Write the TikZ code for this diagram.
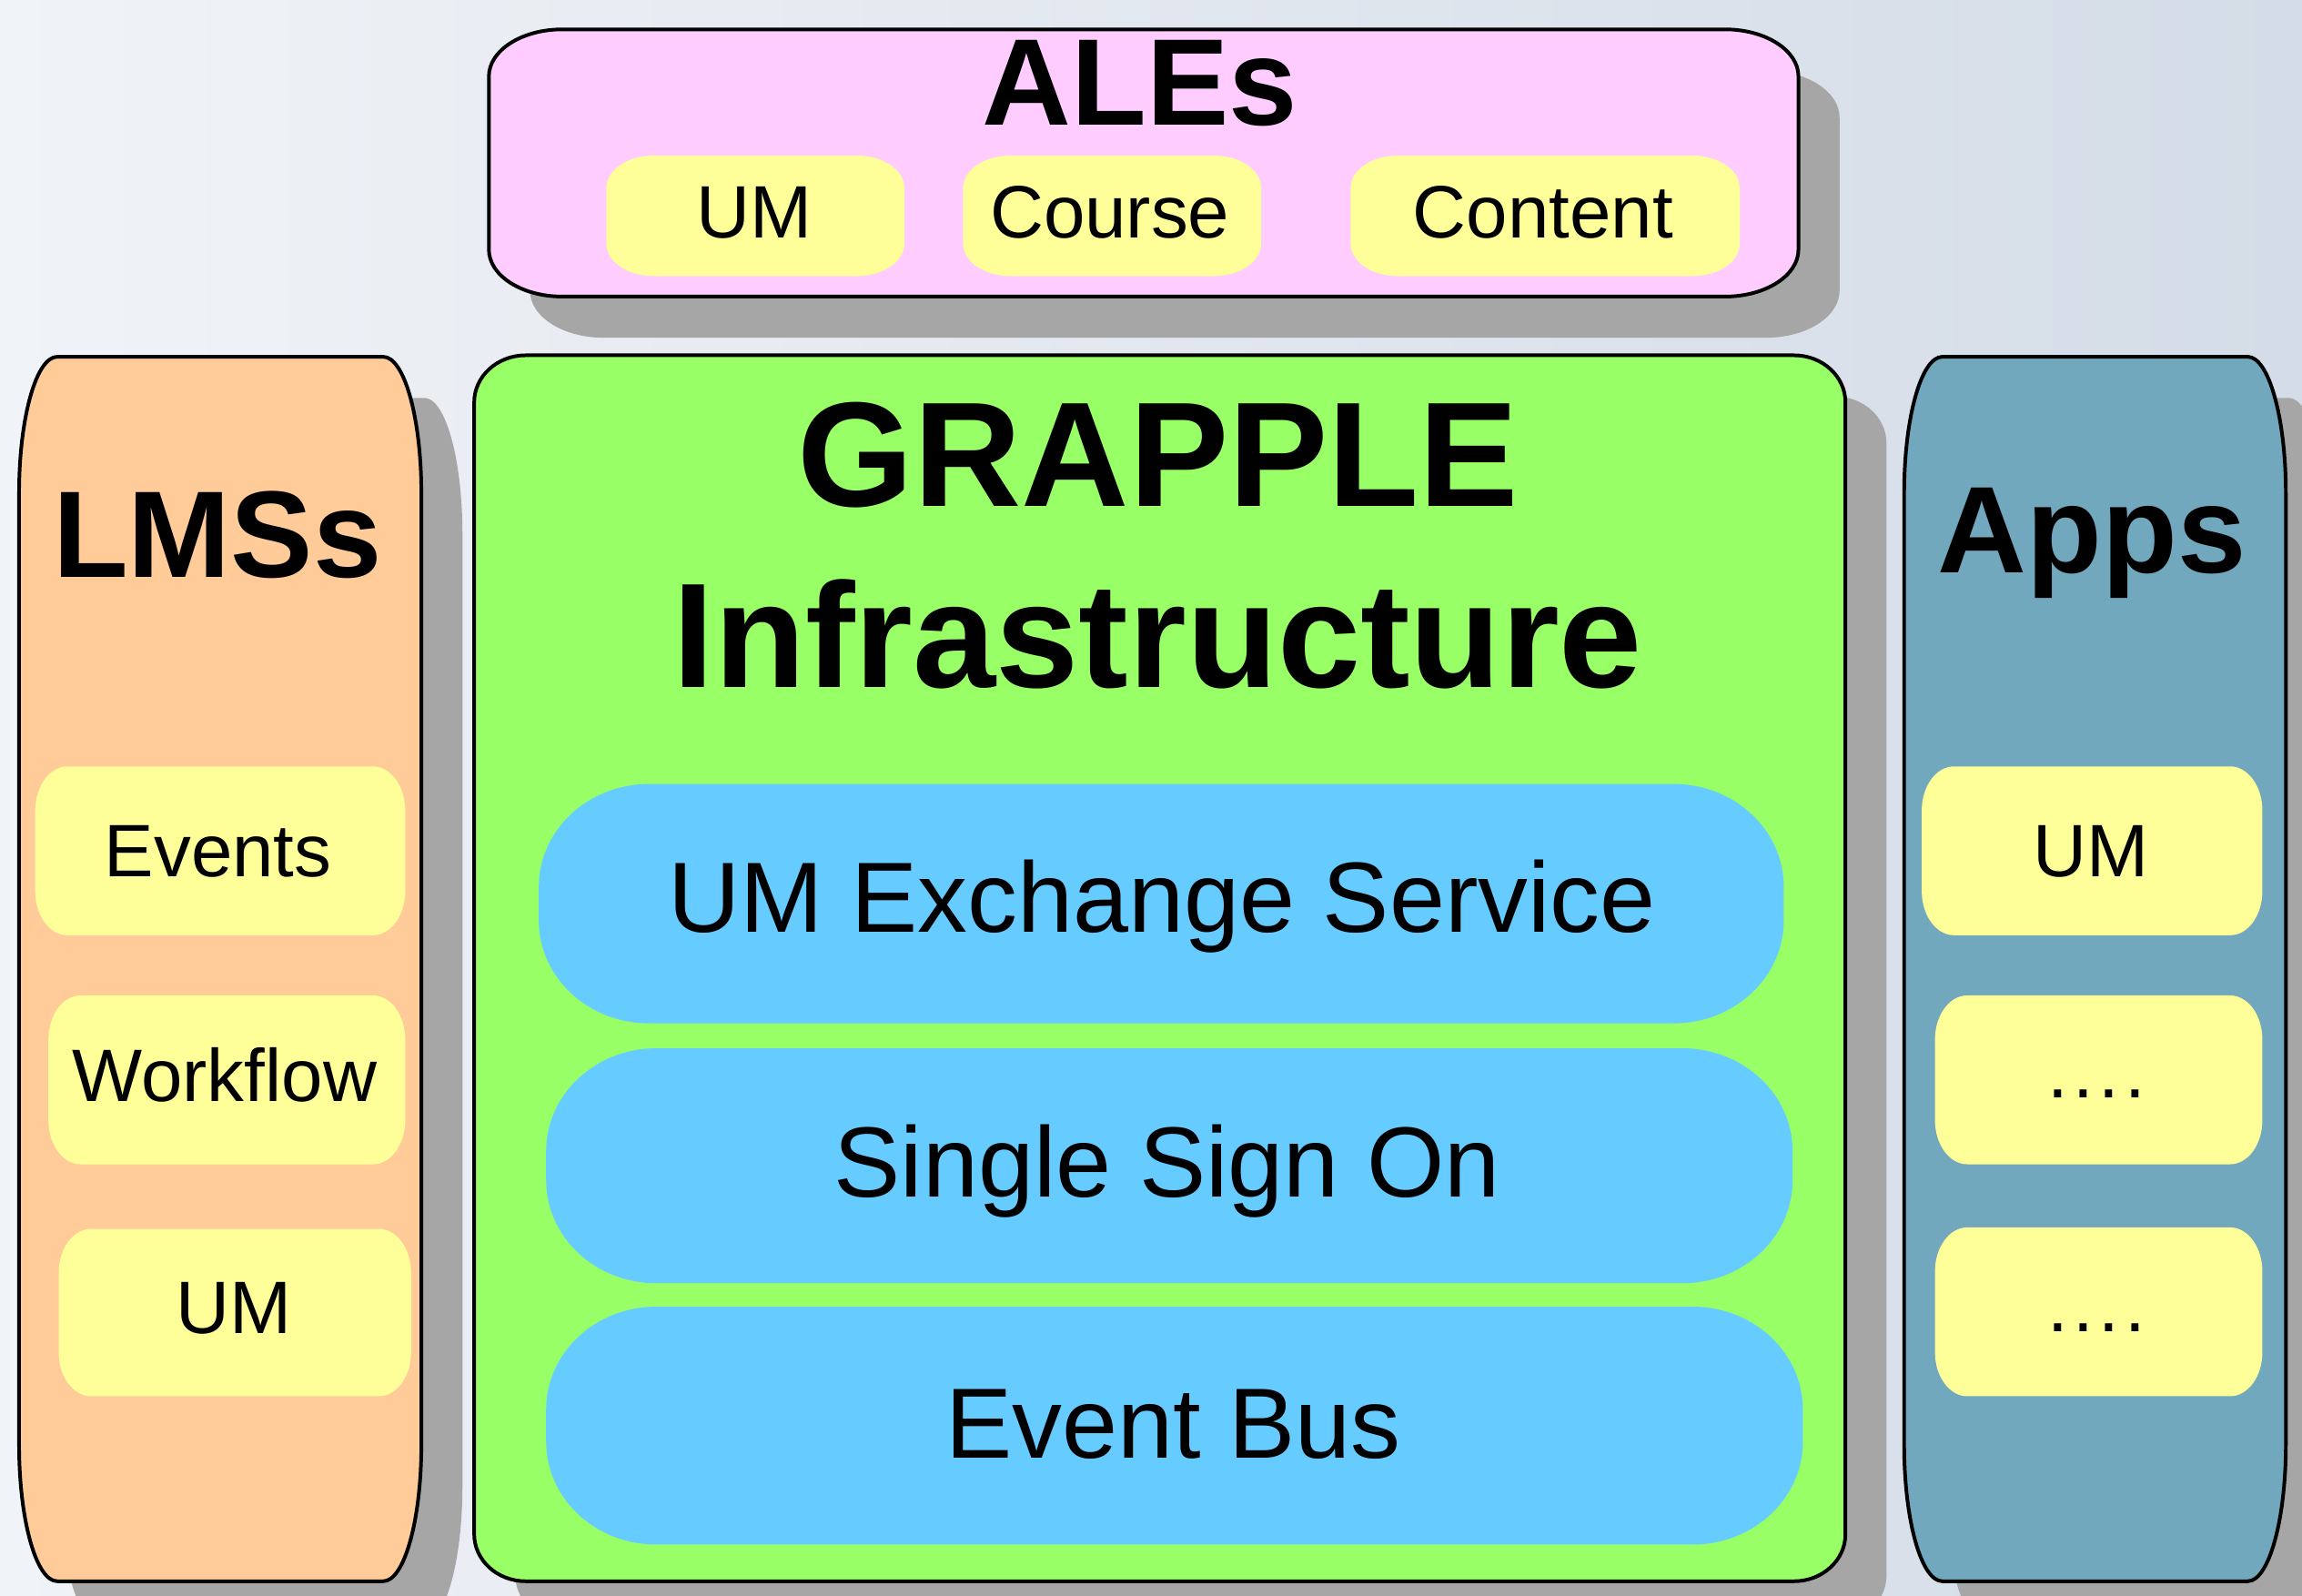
\documentclass[tikz,border=0pt]{standalone}
\usepackage{fontspec}
\setmainfont{Liberation Sans}
\definecolor{bgL}{HTML}{F0F3F7}
\definecolor{bgR}{HTML}{D4DCE7}
\definecolor{shad}{HTML}{A6A6A6}
\definecolor{pinkc}{HTML}{FFCCFF}
\definecolor{orangec}{HTML}{FFCC99}
\definecolor{greenc}{HTML}{99FF66}
\definecolor{appsc}{HTML}{71A8BD}
\definecolor{yellowc}{HTML}{FFFF99}
\definecolor{bluec}{HTML}{66CCFF}
% rounded rectangle with elliptical corners: x1 y1 x2 y2 rx ry
\newcommand\rrect[6]{(#1,{#2+#6}) .. controls (#1,{#2+0.448*#6}) and ({#1+0.448*#5},#2) .. ({#1+#5},#2) -- ({#3-#5},#2) .. controls ({#3-0.448*#5},#2) and (#3,{#2+0.448*#6}) .. (#3,{#2+#6}) -- (#3,{#4-#6}) .. controls (#3,{#4-0.448*#6}) and ({#3-0.448*#5},#4) .. ({#3-#5},#4) -- ({#1+#5},#4) .. controls ({#1+0.448*#5},#4) and (#1,{#4-0.448*#6}) .. (#1,{#4-#6}) -- cycle}
\newcommand\mydots{.\kern1pt.\kern1pt.\kern1pt.}
\tikzset{
  shadowfill/.style={fill=shad, shift={(28,28)}},
  outerbox/.style={draw=black, line width=0.7pt},
  txt/.style={inner sep=0pt, anchor=base, text=black},
  title/.style={txt, font=\fontsize{23.9pt}{28pt}\selectfont\bfseries},
  bigtitle/.style={txt, font=\fontsize{28.9pt}{33pt}\selectfont\bfseries},
  small/.style={txt, font=\fontsize{14.4pt}{17pt}\selectfont},
  pilltxt/.style={txt, font=\fontsize{19.35pt}{23pt}\selectfont},
}
\begin{document}
\begin{tikzpicture}[x=0.1mm, y=-0.1mm]
\useasboundingbox (0,0) rectangle (1568,1087);
\begin{scope}
\clip (0,0) rectangle (1568,1087);
\shade[left color=bgL, right color=bgR] (0,0) rectangle (1568,1087);
% shadows
\fill[shadowfill] \rrect{333}{20}{1225}{202}{50}{32};
\fill[shadowfill] \rrect{13}{243}{287}{1077}{26}{93};
\fill[shadowfill] \rrect{323}{242}{1257}{1077}{35}{32};
\fill[shadowfill] \rrect{1297}{243}{1557}{1077}{26}{93};
% outer boxes
\filldraw[outerbox, fill=pinkc] \rrect{333}{20}{1225}{202}{50}{32};
\filldraw[outerbox, fill=orangec] \rrect{13}{243}{287}{1077}{26}{93};
\filldraw[outerbox, fill=greenc] \rrect{323}{242}{1257}{1077}{35}{32};
\filldraw[outerbox, fill=appsc] \rrect{1297}{243}{1557}{1077}{26}{93};
% ALEs inner boxes
\fill[yellowc] \rrect{413}{106}{616}{188}{32}{22};
\fill[yellowc] \rrect{656}{106}{859}{188}{32}{22};
\fill[yellowc] \rrect{920}{106}{1185}{188}{32}{22};
% LMS inner boxes
\fill[yellowc] \rrect{24}{522}{276}{637}{22}{30};
\fill[yellowc] \rrect{33}{678}{276}{793}{22}{30};
\fill[yellowc] \rrect{40}{837}{280}{951}{22}{30};
% Apps inner boxes
\fill[yellowc] \rrect{1309}{522}{1541}{637}{22}{30};
\fill[yellowc] \rrect{1318}{678}{1541}{793}{22}{30};
\fill[yellowc] \rrect{1318}{836}{1541}{951}{22}{30};
% GRAPPLE pills
\fill[bluec] \rrect{367}{534}{1215}{697}{75}{70};
\fill[bluec] \rrect{372}{714}{1221}{874}{75}{70};
\fill[bluec] \rrect{372}{890}{1228}{1052}{75}{70};
\end{scope}
% texts
\node[title] (ales) at (776.5,85) {ALEs};
\node[small] (aleum) at (514,162) {UM};
\node[small] (alecourse) at (756,162) {Course};
\node[small] (alecontent) at (1051,162) {Content};
\node[title] (lms) at (148,393) {LMSs};
\node[small] (lmsev) at (148.5,597) {Events};
\node[small] (lmswf) at (153,750) {Workflow};
\node[small] (lmsum) at (159,908) {UM};
\node[title] (apps) at (1425,390) {Apps};
\node[small] (appsum) at (1424,597) {UM};
\node[small] (appsd1) at (1428,748) {\mydots};
\node[small] (appsd2) at (1428,907) {\mydots};
\node[bigtitle] (grapple) at (789,345) {GRAPPLE};
\node[bigtitle] (infra) at (788.5,468) {Infrastructure};
\node[pilltxt] (umes) at (791.5,635) {UM Exchange Service};
\node[pilltxt] (sso) at (795,815) {Single Sign On};
\node[pilltxt] (eb) at (799,993) {Event Bus};
\end{tikzpicture}
\end{document}
